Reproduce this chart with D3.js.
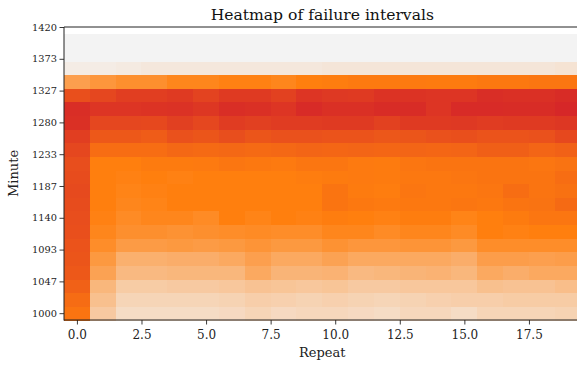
<!DOCTYPE html>
<html>
<head>
<meta charset="utf-8">
<script src="https://cdn.jsdelivr.net/npm/d3@7"></script>
<style>
  html, body { margin: 0; padding: 0; background: #fff; }
  svg { display: block; font-family: "DejaVu Serif", serif; }
</style>
</head>
<body>
<svg id="chart" width="577" height="365"></svg>
<script>
// Repeat index (columns) and minute of day (rows, bottom to top)
const repeats = d3.range(0, 20);
const minutes = d3.range(1000, 1401, 20);

// Failure share (%) per minute row, one value per repeat
const row1000 = [56,18,10,10,10,10,11,13,11,12,12,11,10,12,12,10,13,13,13,14];
const row1020 = [61,22,13,13,13,13,14,16,15,14,15,14,13,14,15,16,16,17,17,17];
const row1040 = [67,26,17,17,18,18,19,21,20,19,20,18,18,19,19,19,22,21,21,23];
const row1060 = [72,35,25,25,26,26,26,32,27,27,28,25,26,27,28,26,32,30,32,32];
const row1080 = [74,39,29,29,30,30,32,36,32,32,35,32,32,32,32,30,37,37,36,37];
const row1100 = [75,44,38,38,39,38,39,41,39,39,42,40,40,41,41,39,44,44,44,44];
const row1120 = [77,47,43,43,42,43,44,45,44,44,47,47,45,47,47,45,50,49,50,50];
const row1140 = [78,49,45,47,47,45,50,48,50,49,51,50,49,51,51,48,50,52,55,55];
const row1160 = [79,50,47,48,50,50,50,50,50,50,56,54,53,54,54,55,54,56,57,62];
const row1180 = [80,50,48,49,50,50,50,50,50,50,56,52,51,55,54,54,55,60,56,58];
const row1200 = [79,50,49,50,49,50,50,50,50,51,52,53,52,54,54,55,56,56,56,60];
const row1220 = [78,50,50,52,52,53,55,54,53,55,55,53,52,55,56,56,56,56,55,57];
const row1240 = [82,60,60,60,63,62,63,62,63,65,64,65,64,65,64,65,68,68,65,67];
const row1260 = [87,72,72,70,76,74,78,74,76,76,75,75,73,74,76,77,75,75,76,81];
const row1280 = [95,82,82,81,86,82,88,86,88,88,89,89,85,89,89,90,88,89,89,91];
const row1300 = [96,92,92,93,94,91,96,95,92,98,95,95,97,97,92,98,98,97,97,100];
const row1320 = [77,82,87,87,89,84,89,89,85,92,90,89,93,93,92,92,96,95,95,97];
const row1340 = [36,40,43,43,47,47,49,49,47,50,51,53,53,53,52,52,54,54,55,55];
const row1360 = [3,3,4,5,5,5,5,5,5,5,6,6,6,6,6,6,6,6,6,7];
const row1380 = [0,0,0,0,0,0,0,0,0,0,0,0,0,0,0,0,0,0,0,0];
const row1400 = [0,0,0,0,0,0,0,0,0,0,0,0,0,0,0,0,0,0,0,0];

const rows = [row1000,row1020,row1040,row1060,row1080,row1100,row1120,row1140,
              row1160,row1180,row1200,row1220,row1240,row1260,row1280,row1300,
              row1320,row1340,row1360,row1380,row1400];

// Tick values on each axis
const xTicks = [0, 2.5, 5, 7.5, 10, 12.5, 15, 17.5];
const yTicks = d3.range(10).map(i => 1000 + i * 420 / 9);

const titleText = "Heatmap of failure intervals";
const xLabel = "Repeat";
const yLabel = "Minute";

// Layout
const plotLeft = 64, plotTop = 27, plotBottom = 320, plotWidth = 516.6;
const plotRight = plotLeft + plotWidth;

const svg = d3.select("#chart");

const x = d3.scaleLinear().domain([-0.5, 19.5]).range([plotLeft, plotRight]);
const y = d3.scaleLinear().domain([990, 1420]).range([plotBottom, plotTop]);
const color = d3.scaleLinear()
  .domain([0, 50, 100])
  .range(["#f3f3f3", "#ff7f0e", "#d62728"])
  .interpolate(d3.interpolateRgb);

const cells = [];
minutes.forEach((m, r) => {
  repeats.forEach((rep, c) => cells.push({ m, rep, v: rows[r][c] }));
});

svg.append("g")
  .attr("shape-rendering", "crispEdges")
  .selectAll("rect")
  .data(cells)
  .join("rect")
  .attr("x", d => x(d.rep - 0.5))
  .attr("y", d => y(d.m + 10))
  .attr("width", d => x(d.rep + 0.5) - x(d.rep - 0.5) + 0.5)
  .attr("height", d => y(d.m - 10) - y(d.m + 10) + 0.5)
  .attr("fill", d => color(d.v));

// Axes
const xAxis = d3.axisBottom(x).tickValues(xTicks).tickFormat(d3.format(".1f"))
  .tickSizeOuter(0).tickSize(4.5).tickPadding(5.5);
const yAxis = d3.axisLeft(y).tickValues(yTicks).tickFormat(d => Math.round(d))
  .tickSizeOuter(0).tickSize(4.5).tickPadding(2.5);

const gx = svg.append("g").attr("transform", `translate(0,${plotBottom})`).call(xAxis);
gx.select(".domain").remove();
gx.selectAll("text").attr("font-family", "DejaVu Serif").attr("font-size", 12).attr("fill", "#222");
gx.selectAll("line").attr("stroke", "#222").attr("stroke-width", 0.9);

const gy = svg.append("g").attr("transform", `translate(${plotLeft},0)`).call(yAxis);
gy.select(".domain").remove();
gy.selectAll("text").attr("font-family", "DejaVu Serif").attr("font-size", 9.8).attr("fill", "#222");
gy.selectAll("line").attr("stroke", "#222").attr("stroke-width", 0.9);

// Spines
const spine = svg.append("g").attr("stroke", "#222").attr("stroke-width", 1).attr("fill", "none");
spine.append("line").attr("x1", plotLeft).attr("x2", plotLeft).attr("y1", plotTop).attr("y2", plotBottom + 0.5);
spine.append("line").attr("x1", plotLeft).attr("x2", plotRight).attr("y1", plotBottom).attr("y2", plotBottom);
spine.append("line").attr("x1", plotLeft).attr("x2", plotRight).attr("y1", plotTop).attr("y2", plotTop);
spine.append("line").attr("x1", plotRight).attr("x2", plotRight).attr("y1", plotTop).attr("y2", plotBottom);

// Titles
svg.append("text")
  .attr("x", (plotLeft + plotRight) / 2).attr("y", 19.5)
  .attr("text-anchor", "middle").attr("font-size", 15.6).attr("fill", "#111")
  .text(titleText);

svg.append("text")
  .attr("x", (plotLeft + plotRight) / 2).attr("y", 357)
  .attr("text-anchor", "middle").attr("font-size", 13).attr("fill", "#222")
  .text(xLabel);

svg.append("text")
  .attr("transform", `translate(18,${(plotTop + plotBottom) / 2}) rotate(-90)`)
  .attr("text-anchor", "middle").attr("font-size", 13).attr("fill", "#222")
  .text(yLabel);
</script>
</body>
</html>
